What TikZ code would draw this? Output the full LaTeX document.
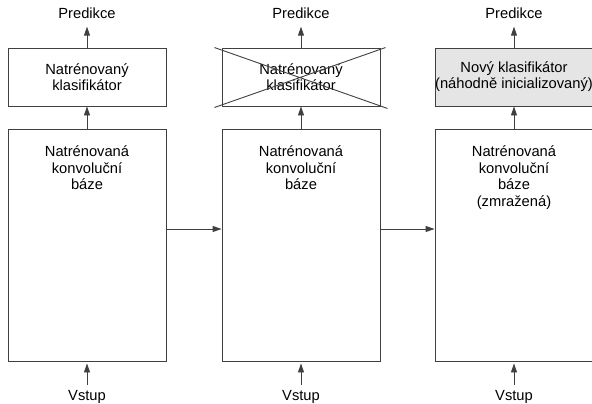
\documentclass[tikz,border=0pt]{standalone}
\usepackage{fontspec}
\setmainfont{Liberation Sans}
\usetikzlibrary{positioning,arrows.meta}

\begin{document}
\begin{tikzpicture}[x=1pt, y=-1pt,
  font=\fontsize{14.7}{16}\selectfont,
  sip/.style={-{Triangle[length=9pt,width=6pt]}, black!75, line width=0.9pt},
  box/.style={draw=black!75, line width=0.9pt, minimum width=158pt, inner sep=0pt, align=center},
  klas/.style={box, minimum height=58pt},
  baze/.style={box, minimum height=232pt},
  popis/.style={inner sep=0pt, outer sep=0pt, align=center},
  txt/.style={popis, anchor=north, font=\fontsize{14.7}{16.7}\selectfont}]
\useasboundingbox (0,0) rectangle (592,404);
%
\node[baze] (b1) at (87,245)  {};
\node[baze] (b2) at (301,245) {};
\node[baze] (b3) at (514,245) {};
%
\node[txt] (t1) at (87,145.5)  {Natrénovaná\\konvoluční\\báze};
\node[txt] (t2) at (301,145.5) {Natrénovaná\\konvoluční\\báze};
\node[txt] (t3) at (514,145.5) {Natrénovaná\\konvoluční\\báze\\(zmražená)};
%
\node[klas] (k1) at (87,77)  {Natrénovaný\\klasifikátor};
\node[klas] (k2) at (301,77) {Natrénovaný\\klasifikátor};
\node[klas,fill=black!10] (k3) at (514,77) {Nový klasifikátor\\(náhodně inicializovaný)};
%
\node[popis,anchor=base] (p1) at (87,18.5)  {Predikce};
\node[popis,anchor=base] (p2) at (301,18.5) {Predikce};
\node[popis,anchor=base] (p3) at (514,18.5) {Predikce};
%
\node[popis,anchor=base] (v1) at (87,400)  {Vstup};
\node[popis,anchor=base] (v2) at (301,400) {Vstup};
\node[popis,anchor=base] (v3) at (514,400) {Vstup};
%
\path[sip]
	(v1) edge[shorten <=5pt, shorten >=2pt] (b1)
	(v2) edge[shorten <=5pt, shorten >=2pt] (b2)
	(v3) edge[shorten <=5pt, shorten >=2pt] (b3)
%
	(b1) edge (k1)
	(b2) edge (k2)
	(b3) edge (k3)
%
	(k1) edge[shorten >=8pt] (p1)
	(k2) edge[shorten >=8pt] (p2)
	(k3) edge[shorten >=8pt] (p3)
%
	([yshift=16pt]b1.east) edge ([yshift=16pt]b2.west)
	([yshift=16pt]b2.east) edge ([yshift=16pt]b3.west)
; %-draw-%
\draw[black!75, line width=0.9pt]
	([xshift=-7pt]k2.north west) -- ([xshift=7pt,yshift=-2pt]k2.south east)
	([xshift=-7pt,yshift=-1pt]k2.south west) -- ([xshift=5pt]k2.north east);
\end{tikzpicture}
\end{document}
